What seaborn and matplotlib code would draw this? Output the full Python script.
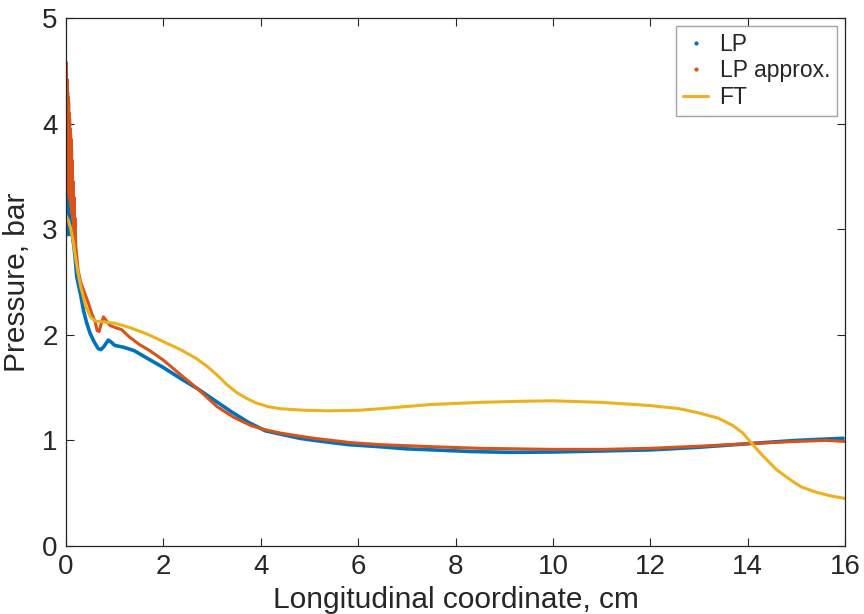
import numpy as np
import pandas as pd
import seaborn as sns
import matplotlib
matplotlib.use("Agg")
import matplotlib.pyplot as plt
from matplotlib.lines import Line2D

# ---- data ----
lp_x = [0.0, 0.005, 0.01, 0.015, 0.02, 0.025, 0.03, 0.035, 0.04, 0.045, 0.05, 0.06, 0.07,
        0.08, 0.09, 0.1, 0.11, 0.12, 0.14, 0.16, 0.19, 0.22,
        0.3, 0.36, 0.42, 0.49, 0.57, 0.66, 0.72, 0.78, 0.87, 0.93, 1.0, 1.1, 1.2, 1.4,
        1.66, 2.0, 2.41, 2.7, 3.05, 3.4, 3.75, 4.1, 4.4, 4.8, 5.1, 5.8, 6.45, 7.0, 7.54,
        8.3, 9.1, 10.0, 11.0, 12.0, 13.0, 14.05, 15.0, 15.96]
lp_y = [3.0, 3.45, 2.95, 3.4, 3.0, 3.45, 2.95, 3.4, 3.0, 3.35, 2.95, 3.35, 3.0,
        3.3, 2.95, 3.2, 2.95, 3.1, 2.9, 2.85, 2.72, 2.55,
        2.38, 2.23, 2.12, 2.02, 1.94, 1.87, 1.86, 1.89, 1.95, 1.93, 1.90, 1.89, 1.88, 1.85,
        1.78, 1.69, 1.57, 1.49, 1.38, 1.27, 1.17, 1.09, 1.06, 1.02, 1.0, 0.96, 0.94, 0.92, 0.91,
        0.895, 0.887, 0.89, 0.90, 0.91, 0.935, 0.97, 1.0, 1.02]

lpa_x = [0.0, 0.005, 0.01, 0.015, 0.02, 0.025, 0.03, 0.035, 0.04, 0.045, 0.05, 0.055,
         0.06, 0.065, 0.07, 0.075, 0.08, 0.085, 0.09, 0.095, 0.1, 0.105, 0.11, 0.115,
         0.12, 0.13, 0.14, 0.15, 0.16, 0.17, 0.18, 0.19, 0.2, 0.22, 0.25,
         0.3, 0.38, 0.46, 0.53, 0.6, 0.64, 0.68, 0.72, 0.77, 0.82, 0.9, 1.0, 1.14, 1.3,
         1.5, 1.72, 2.0, 2.41, 2.65, 2.89, 3.1, 3.44, 3.8, 4.1, 4.4, 4.8, 5.1, 5.83,
         6.45, 7.54, 8.5, 9.26, 10.0, 11.0, 12.0, 13.0, 14.05, 15.0, 15.6, 16.0]
lpa_y = [3.5, 4.58, 3.45, 4.4, 3.5, 4.42, 3.4, 4.3, 3.45, 4.25, 3.35, 4.2,
         3.4, 4.1, 3.3, 4.05, 3.3, 3.95, 3.25, 3.9, 3.25, 3.85, 3.2, 3.75,
         3.15, 3.65, 3.1, 3.45, 3.0, 3.3, 2.95, 3.1, 2.85, 2.75, 2.61,
         2.5, 2.4, 2.30, 2.2, 2.12, 2.04, 2.03, 2.1, 2.17, 2.14, 2.09, 2.07, 2.05, 1.98,
         1.91, 1.85, 1.76, 1.60, 1.51, 1.41, 1.32, 1.22, 1.14, 1.10, 1.07, 1.04, 1.02, 0.98,
         0.96, 0.94, 0.925, 0.92, 0.915, 0.915, 0.925, 0.945, 0.97, 0.99, 1.0, 0.99]

ft_x = [0.0, 0.05, 0.1, 0.15, 0.2, 0.25, 0.3, 0.4, 0.5, 0.6, 0.8, 1.0, 1.3, 1.65, 2.0,
        2.35, 2.68, 2.9, 3.1, 3.3, 3.5, 3.7, 3.9, 4.15, 4.4, 4.9, 5.4, 6.0, 6.45,
        7.5, 8.5, 9.3, 10.0, 11.0, 12.0, 12.6, 13.0, 13.4, 13.7, 13.9, 14.05, 14.3,
        14.6, 14.9, 15.1, 15.4, 15.7, 16.0]
ft_y = [3.13, 3.08, 3.0, 2.88, 2.72, 2.58, 2.46, 2.28, 2.17, 2.13, 2.12, 2.11, 2.07,
        2.01, 1.935, 1.86, 1.775, 1.70, 1.62, 1.53, 1.455, 1.40, 1.355, 1.32, 1.30, 1.285,
        1.28, 1.285, 1.30, 1.34, 1.36, 1.37, 1.375, 1.36, 1.33, 1.30, 1.26, 1.21, 1.14,
        1.07, 0.99, 0.86, 0.72, 0.62, 0.56, 0.51, 0.475, 0.45]

x_ticks = [0, 2, 4, 6, 8, 10, 12, 14, 16]
y_ticks = [0, 1, 2, 3, 4, 5]

series_labels = ["LP", "LP approx.", "FT"]
colors = ["#0072BD", "#D95319", "#EDB120"]

# ---- style ----
sns.set_theme(style="white")
plt.rcParams["font.family"] = ["Liberation Sans", "DejaVu Sans"]
plt.rcParams["axes.edgecolor"] = "#262626"
plt.rcParams["xtick.color"] = "#262626"
plt.rcParams["ytick.color"] = "#262626"

fig = plt.figure(figsize=(8.64, 6.14), dpi=100)
ax = fig.add_axes([66 / 864, 1 - 546 / 614, (845 - 66) / 864, (546 - 18) / 614])

df_lp = pd.DataFrame({"x": lp_x, "y": lp_y})
df_lpa = pd.DataFrame({"x": lpa_x, "y": lpa_y})
df_ft = pd.DataFrame({"x": ft_x, "y": ft_y})

sns.lineplot(data=df_lp, x="x", y="y", ax=ax, sort=False, color=colors[0], lw=2.6,
             estimator=None, legend=False)
sns.lineplot(data=df_lpa, x="x", y="y", ax=ax, sort=False, color=colors[1], lw=2.2,
             estimator=None, legend=False)
sns.lineplot(data=df_ft, x="x", y="y", ax=ax, sort=False, color=colors[2], lw=2.2,
             estimator=None, legend=False)

ax.set_xlim(0, 16)
ax.set_ylim(0, 5)
ax.set_xticks(x_ticks)
ax.set_yticks(y_ticks)
ax.set_xticklabels([str(t) for t in x_ticks])
ax.set_yticklabels([str(t) for t in y_ticks])
ax.tick_params(axis="both", direction="in", length=6, width=0.8, labelsize=20,
               top=True, right=True, bottom=True, left=True, pad=6,
               labelcolor="#262626")
for s in ax.spines.values():
    s.set_visible(True)
    s.set_linewidth(0.9)
    s.set_color("#262626")

ax.set_xlabel("Longitudinal coordinate, cm", fontsize=21.5, color="#262626", labelpad=4)
ax.set_ylabel("Pressure, bar", fontsize=21.5, color="#262626", labelpad=8)

handles = [
    Line2D([], [], color=colors[0], marker=".", linestyle="none", markersize=4),
    Line2D([], [], color=colors[1], marker=".", linestyle="none", markersize=4),
    Line2D([], [], color=colors[2], lw=2.2),
]
leg = ax.legend(handles, series_labels, loc="upper right", fontsize=16.5,
                frameon=True, fancybox=False, edgecolor="#8c8c8c",
                borderaxespad=0.35, handlelength=1.1, handletextpad=0.5,
                labelspacing=0.15, borderpad=0.3)
leg.get_frame().set_linewidth(1.0)

fig.savefig("out.png", dpi=100)
